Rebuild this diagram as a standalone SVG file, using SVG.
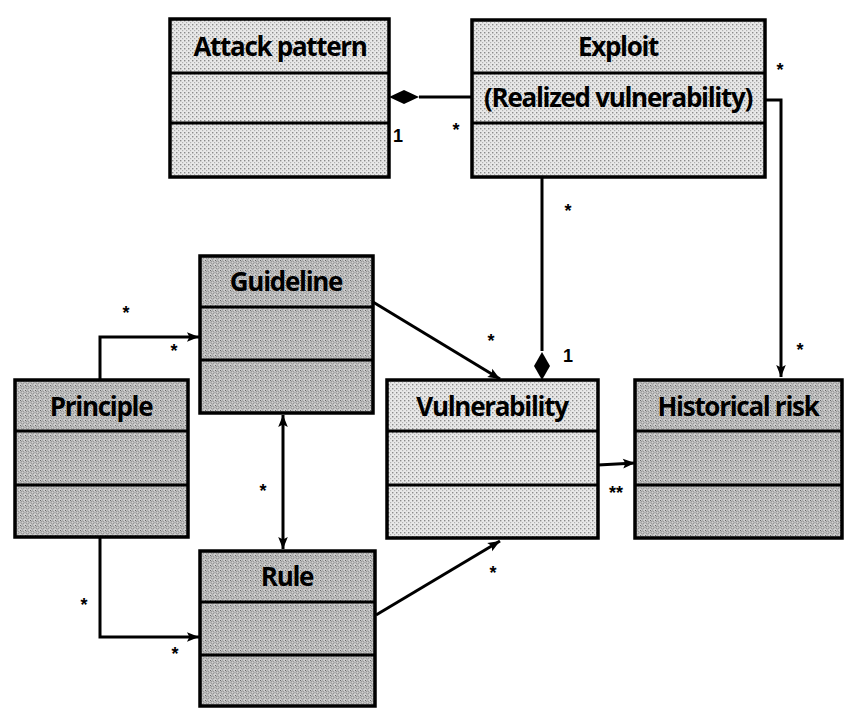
<svg xmlns="http://www.w3.org/2000/svg" width="845" height="708" viewBox="0 0 845 708">
<defs>
<pattern id="pl" width="4" height="4" patternUnits="userSpaceOnUse">
<rect width="4" height="4" fill="#e8e8e8"/>
<rect x="0" y="0" width="1.4" height="1.4" fill="#8a8a8a"/>
<rect x="2" y="2" width="1.2" height="1.2" fill="#b0b0b0"/>
</pattern>
<pattern id="pd" width="5" height="5" patternUnits="userSpaceOnUse">
<rect width="5" height="5" fill="#d0d0d0"/>
<circle cx="2.5" cy="2.5" r="1.6" fill="none" stroke="#7a7a7a" stroke-width="0.8"/>
<rect x="0" y="0" width="1" height="1" fill="#666"/>
</pattern>
<marker id="arr" viewBox="0 0 10 10" refX="10" refY="5" markerWidth="14" markerHeight="12" markerUnits="userSpaceOnUse" orient="auto-start-reverse">
<path d="M0,1 L10,5 L0,9 L2,5 Z" fill="#000"/>
</marker>
<marker id="dia" viewBox="0 0 30 14" refX="0" refY="7" markerWidth="30" markerHeight="14" markerUnits="userSpaceOnUse" orient="auto-start-reverse">
<path d="M0,7 L15,0 L30,7 L15,14 Z" fill="#000"/>
</marker>
<style>
.box{stroke:#000;stroke-width:3.5}
.div{stroke:#000;stroke-width:3}
.lt{fill:url(#pl)}
.dk{fill:url(#pd)}
.t{font-family:"Open Sans","Liberation Sans",sans-serif;font-weight:bold;font-size:26px;letter-spacing:-1.3px;text-anchor:middle;fill:#000}
.m{font-family:"Liberation Sans",sans-serif;font-weight:bold;font-size:18px;text-anchor:middle;fill:#000}
.c{fill:none;stroke:#000;stroke-width:3}
</style>
</defs>
<rect width="845" height="708" fill="#fff"/>

<g id="connectors">
<path class="c" d="M419,97 L472,97" marker-start="url(#dia)"/>
<path class="c" d="M765,100 L781,100 L781,377" marker-end="url(#arr)"/>
<path class="c" d="M542,177 L542,351" />
<path d="M542,352 L534,366 L542,380 L550,366 Z" fill="#000"/>
<path class="c" d="M373,302 L500,379" marker-end="url(#arr)"/>
<path class="c" d="M598,465 L635,463" marker-end="url(#arr)"/>
<path class="c" d="M100,380 L100,337 L199,337" marker-end="url(#arr)"/>
<path class="c" d="M100,537 L100,637 L199,637" marker-end="url(#arr)"/>
<path class="c" d="M283,415 L283,549" marker-start="url(#arr)" marker-end="url(#arr)"/>
<path class="c" d="M376,615 L500,541" marker-end="url(#arr)"/>
<text class="m" x="398" y="142">1</text>
<text class="m" x="456" y="136">*</text>
<text class="m" x="780" y="76">*</text>
<text class="m" x="568" y="217">*</text>
<text class="m" x="568" y="362">1</text>
<text class="m" x="800" y="356">*</text>
<text class="m" x="491" y="347">*</text>
<text class="m" x="616" y="499">**</text>
<text class="m" x="126" y="319">*</text>
<text class="m" x="174" y="357">*</text>
<text class="m" x="263" y="497">*</text>
<text class="m" x="84" y="611">*</text>
<text class="m" x="175" y="660">*</text>
<text class="m" x="493" y="579">*</text>
</g>

<g id="attack-pattern">
<rect class="box lt" x="170" y="19" width="219" height="158"/>
<line class="div" x1="170" y1="73" x2="389" y2="73"/>
<line class="div" x1="170" y1="123" x2="389" y2="123"/>
<text class="t" x="280" y="56">Attack pattern</text>
</g>

<g id="exploit">
<rect class="box lt" x="472" y="20" width="293" height="157"/>
<line class="div" x1="472" y1="73" x2="765" y2="73"/>
<line class="div" x1="472" y1="123" x2="765" y2="123"/>
<text class="t" x="618" y="56">Exploit</text>
<text class="t" x="618" y="107">(Realized vulnerability)</text>
</g>

<g id="guideline">
<rect class="box dk" x="200" y="256" width="173" height="157"/>
<line class="div" x1="200" y1="307" x2="373" y2="307"/>
<line class="div" x1="200" y1="360" x2="373" y2="360"/>
<text class="t" x="286" y="291">Guideline</text>
</g>

<g id="principle">
<rect class="box dk" x="15" y="380" width="173" height="157"/>
<line class="div" x1="15" y1="431" x2="188" y2="431"/>
<line class="div" x1="15" y1="485" x2="188" y2="485"/>
<text class="t" x="101" y="416">Principle</text>
</g>

<g id="vulnerability">
<rect class="box lt" x="387" y="380" width="211" height="158"/>
<line class="div" x1="387" y1="431" x2="598" y2="431"/>
<line class="div" x1="387" y1="485" x2="598" y2="485"/>
<text class="t" x="492" y="416">Vulnerability</text>
</g>

<g id="historical-risk">
<rect class="box dk" x="635" y="380" width="207" height="158"/>
<line class="div" x1="635" y1="431" x2="842" y2="431"/>
<line class="div" x1="635" y1="485" x2="842" y2="485"/>
<text class="t" x="738" y="416">Historical risk</text>
</g>

<g id="rule">
<rect class="box dk" x="200" y="551" width="175" height="155"/>
<line class="div" x1="200" y1="602" x2="375" y2="602"/>
<line class="div" x1="200" y1="655" x2="375" y2="655"/>
<text class="t" x="287" y="586">Rule</text>
</g>
</svg>
